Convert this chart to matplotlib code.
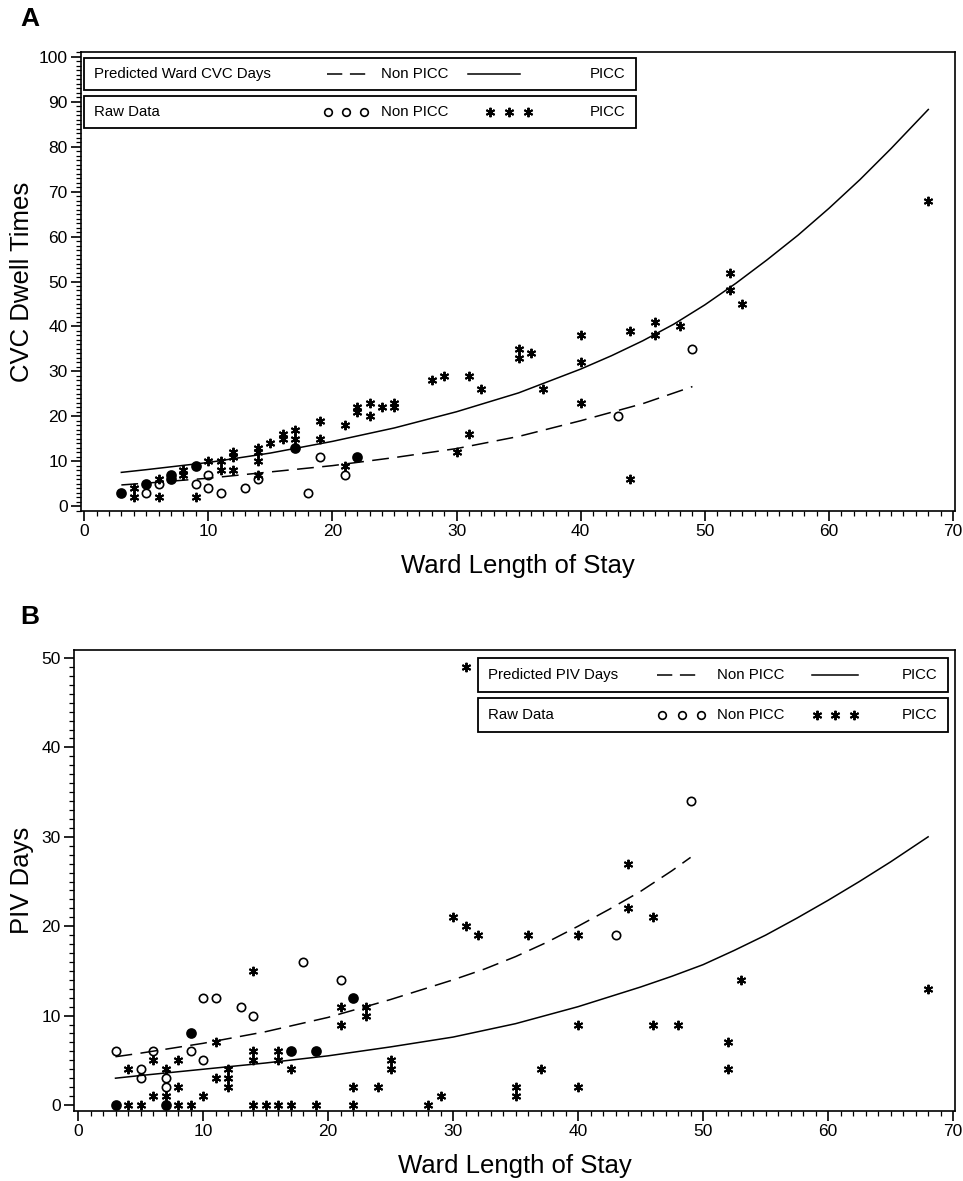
import matplotlib
matplotlib.use("Agg")
import matplotlib.pyplot as plt
from matplotlib.patches import Rectangle
from matplotlib.lines import Line2D
from matplotlib.ticker import MultipleLocator

plt.rcParams['font.family'] = ['Liberation Sans', 'DejaVu Sans']

# ---------------- Panel A data: CVC dwell times vs ward length of stay ----------------
a_picc_x = [4, 4, 6, 6, 8, 8, 9, 10, 11, 11, 12, 12, 12, 14, 14, 14, 14, 15, 16, 16, 17, 17,
            19, 19, 21, 21, 22, 22, 23, 23, 24, 25, 25, 28, 29, 30, 31, 31, 32, 35, 35, 36,
            37, 40, 40, 40, 44, 44, 46, 46, 48, 52, 52, 53, 68]
a_picc_y = [4, 2, 6, 2, 8, 7, 2, 10, 10, 8, 12, 11, 8, 13, 12, 10, 7, 14, 16, 15, 17, 15,
            19, 15, 18, 9, 22, 21, 23, 20, 22, 23, 22, 28, 29, 12, 29, 16, 26, 35, 33, 34,
            26, 38, 32, 23, 39, 6, 41, 38, 40, 52, 48, 45, 68]
a_non_x = [5, 6, 9, 10, 10, 11, 13, 14, 18, 19, 21, 43, 49]
a_non_y = [3, 5, 5, 7, 4, 3, 4, 6, 3, 11, 7, 20, 35]
# points where a Non PICC circle and a PICC star coincide
a_both_x = [3, 5, 7, 7, 9, 17, 22]
a_both_y = [3, 5, 6, 7, 9, 13, 11]

# predicted curves
a_fit_picc_x = [3, 5, 10, 15, 20, 25, 30, 35, 40, 42.5, 45, 47.5, 50, 52.5, 55, 57.5, 60,
                62.5, 65, 68]
a_fit_picc_y = [7.5, 8.1, 9.7, 11.8, 14.4, 17.4, 21.0, 25.2, 30.5, 33.5, 36.8, 40.5, 44.8,
                49.6, 54.8, 60.3, 66.3, 72.7, 79.6, 88.3]
a_fit_non_x = [3, 5, 10, 15, 20, 25, 30, 35, 40, 45, 49]
a_fit_non_y = [4.7, 5.1, 6.2, 7.6, 9.0, 10.8, 12.8, 15.5, 19.0, 22.8, 26.6]

# ---------------- Panel B data: PIV days vs ward length of stay ----------------
b_picc_x = [4, 4, 5, 6, 6, 7, 7, 8, 8, 8, 9, 10, 11, 11, 12, 12, 12, 14, 14, 14, 14, 15,
            16, 16, 16, 17, 17, 19, 21, 21, 22, 22, 23, 23, 24, 25, 25, 28, 29, 30, 31, 31,
            32, 35, 35, 36, 37, 40, 40, 40, 44, 44, 46, 46, 48, 52, 52, 53, 68]
b_picc_y = [0, 4, 0, 5, 1, 1, 4, 0, 2, 5, 0, 1, 7, 3, 4, 3, 2, 15, 6, 5, 0, 0,
            6, 5, 0, 4, 0, 0, 11, 9, 2, 0, 11, 10, 2, 5, 4, 0, 1, 21, 20, 49,
            19, 2, 1, 19, 4, 19, 9, 2, 27, 22, 21, 9, 9, 7, 4, 14, 13]
b_non_x = [3, 5, 5, 6, 7, 7, 9, 10, 10, 11, 13, 14, 18, 21, 43, 49]
b_non_y = [6, 4, 3, 6, 3, 2, 6, 12, 5, 12, 11, 10, 16, 14, 19, 34]
b_both_x = [3, 7, 9, 17, 19, 22]
b_both_y = [0, 0, 8, 6, 6, 12]

b_fit_picc_x = [3, 5, 10, 15, 20, 25, 30, 35, 40, 45, 47.5, 50, 52.5, 55, 57.5, 60, 62.5,
                65, 68]
b_fit_picc_y = [3.0, 3.3, 4.0, 4.7, 5.5, 6.5, 7.6, 9.1, 11.0, 13.2, 14.4, 15.7, 17.3, 19.0,
                20.9, 22.9, 25.0, 27.2, 30.0]
b_fit_non_x = [3, 5, 10, 15, 20, 25, 30, 32.5, 35, 37.5, 40, 42.5, 45, 47.5, 49]
b_fit_non_y = [5.4, 5.8, 6.9, 8.2, 9.8, 11.8, 14.0, 15.2, 16.6, 18.2, 20.0, 21.9, 23.9,
               26.2, 27.7]

W, H = 963, 1181
fig = plt.figure(figsize=(W / 100, H / 100), dpi=100)


def fx(px):
    return px / W


def fy(py):
    return 1 - py / H


STAR = (6, 2, 0)
DASH = (11, 5.5)


def style_axes(ax, xlim, ylim, xlabel, ylabel, ylabelpad):
    ax.set_xlim(*xlim)
    ax.set_ylim(*ylim)
    ax.xaxis.set_major_locator(MultipleLocator(10))
    ax.xaxis.set_minor_locator(MultipleLocator(1))
    ax.yaxis.set_major_locator(MultipleLocator(10))
    ax.yaxis.set_minor_locator(MultipleLocator(1))
    ax.tick_params(which='major', direction='out', length=7, width=1.2, labelsize=12.5, pad=2.5)
    ax.tick_params(which='minor', direction='out', length=3.5, width=0.9)
    for s in ax.spines.values():
        s.set_linewidth(1.2)
    ax.set_xlabel(xlabel, fontsize=18.5, labelpad=11)
    ax.set_ylabel(ylabel, fontsize=18.5, labelpad=ylabelpad)


def draw_panel(ax, px, py, nx, ny, bx, by, fpx, fpy, fnx, fny):
    ax.plot(fpx, fpy, color='black', lw=1.1, zorder=2)
    ln, = ax.plot(fnx, fny, color='black', lw=1.1, zorder=2)
    ln.set_dashes(DASH)
    ax.plot(nx, ny, linestyle='none', marker='o', ms=6, mfc='none', mec='black', mew=1.2, zorder=3)
    ax.plot(px, py, linestyle='none', marker=STAR, ms=6.8, mec='black', mew=1.4, zorder=3)
    ax.plot(bx, by, linestyle='none', marker='o', ms=6.5, mfc='black', mec='black', mew=1.2, zorder=4)


def legend_box(x0, x1, y0, y1):
    fig.patches.append(Rectangle((fx(x0), fy(y1)), fx(x1) - fx(x0), fy(y0) - fy(y1),
                                 transform=fig.transFigure, fill=False, ec='black', lw=1.3))


def legend(x0, x1, top, h, gap, title1, dash_x, nonpicc_x, solid_x, circ_x, star_x):
    y1c = top + h / 2
    y2c = top + h + gap + h / 2
    legend_box(x0, x1, top, top + h)
    legend_box(x0, x1, top + h + gap, top + 2 * h + gap)
    fs = 10.8
    fig.text(fx(x0 + 10), fy(y1c), title1, fontsize=fs, va='center', ha='left')
    fig.text(fx(x0 + 10), fy(y2c), 'Raw Data', fontsize=fs, va='center', ha='left')
    for yc in (y1c, y2c):
        fig.text(fx(nonpicc_x), fy(yc), 'Non PICC', fontsize=fs, va='center', ha='left')
        fig.text(fx(x1 - 11), fy(yc), 'PICC', fontsize=fs, va='center', ha='right')
    l1 = Line2D([fx(dash_x[0]), fx(dash_x[1])], [fy(y1c), fy(y1c)], transform=fig.transFigure,
                color='black', lw=1.1)
    l1.set_dashes((10, 5))
    fig.lines.append(l1)
    fig.lines.append(Line2D([fx(solid_x[0]), fx(solid_x[1])], [fy(y1c), fy(y1c)],
                            transform=fig.transFigure, color='black', lw=1.1))
    fig.lines.append(Line2D([fx(c) for c in circ_x], [fy(y2c)] * 3, transform=fig.transFigure,
                            linestyle='none', marker='o', ms=5.5, mfc='none', mec='black', mew=1.2))
    fig.lines.append(Line2D([fx(c) for c in star_x], [fy(y2c)] * 3, transform=fig.transFigure,
                            linestyle='none', marker=STAR, ms=6.8, mec='black', mew=1.4))


# ---------------- Panel A ----------------
axA = fig.add_axes([fx(81), fy(511), fx(955) - fx(81), fy(52) - fy(511)])
draw_panel(axA, a_picc_x, a_picc_y, a_non_x, a_non_y, a_both_x, a_both_y,
           a_fit_picc_x, a_fit_picc_y, a_fit_non_x, a_fit_non_y)
style_axes(axA, (-0.25, 70.15), (-1.1, 101.1), 'Ward Length of Stay', 'CVC Dwell Times', 3.5)
legend(84, 636, 58, 32, 6, 'Predicted Ward CVC Days', (327, 372), 381, (468, 520),
       (328, 346, 364), (490, 509, 528))

# ---------------- Panel B ----------------
axB = fig.add_axes([fx(74), fy(1111), fx(955) - fx(74), fy(650) - fy(1111)])
draw_panel(axB, b_picc_x, b_picc_y, b_non_x, b_non_y, b_both_x, b_both_y,
           b_fit_picc_x, b_fit_picc_y, b_fit_non_x, b_fit_non_y)
style_axes(axB, (-0.32, 70.15), (-0.67, 50.9), 'Ward Length of Stay', 'PIV Days', 5.5)
legend(478, 948, 658, 34, 6, 'Predicted PIV Days', (657, 700), 717, (812, 858),
       (662, 682, 701), (817, 835, 854))

fig.text(fx(20), fy(19), 'A', fontsize=19, fontweight='bold', va='center', ha='left')
fig.text(fx(20), fy(617), 'B', fontsize=19, fontweight='bold', va='center', ha='left')

fig.savefig('out.png', dpi=100)
